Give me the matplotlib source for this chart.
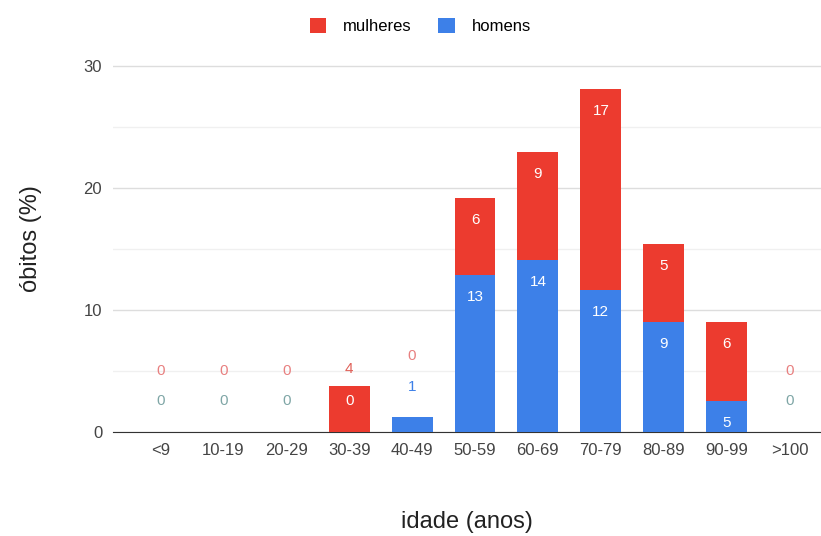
import numpy as np
import matplotlib.pyplot as plt

plt.rcParams['font.family'] = ['Liberation Sans', 'DejaVu Sans']

faixas = ["<9", "10-19", "20-29", "30-39", "40-49", "50-59", "60-69",
          "70-79", "80-89", "90-99", ">100"]
# percentages (bar heights)
homens_pct = [0, 0, 0, 0, 1.2, 12.9, 14.1, 11.6, 9.0, 2.5, 0]
mulheres_pct = [0, 0, 0, 3.8, 0, 6.3, 8.85, 16.5, 6.4, 6.5, 0]
# counts (annotations)
homens_n = [0, 0, 0, 0, 1, 13, 14, 12, 9, 5, 0]
mulheres_n = [0, 0, 0, 4, 0, 6, 9, 17, 5, 6, 0]

red = '#ec3b2f'
blue = '#3d80e8'

fig = plt.figure(figsize=(8.21, 5.36), dpi=100)
ax = fig.add_axes([0.138, 0.194, 0.862, 0.722])

x = np.arange(len(faixas))
w = 0.65
hp = np.array(homens_pct)
mp = np.array(mulheres_pct)
ax.bar(x, hp, w, color=blue, zorder=3, label="homens")
ax.bar(x, mp, w, bottom=hp, color=red, zorder=3, label="mulheres")

fs = 11
for i in x:
    top = hp[i] + mp[i]
    # homens label
    if hp[i] > 2:
        ax.text(i, hp[i] - 1.8, str(homens_n[i]), ha='center', va='center',
                color='white', fontsize=fs, zorder=4)
    elif hp[i] > 0:
        ax.text(i, hp[i] + 2.5, str(homens_n[i]), ha='center', va='center',
                color=blue, fontsize=fs, zorder=4)
    elif mp[i] > 0:
        ax.text(i, 2.5, str(homens_n[i]), ha='center', va='center',
                color='white', fontsize=fs, zorder=4)
    else:
        ax.text(i, 2.5, str(homens_n[i]), ha='center', va='center',
                color='#7fa6a6', fontsize=fs, zorder=4)
    # mulheres label
    if mp[i] > 2:
        if i == 3:
            ax.text(i, top + 1.4, str(mulheres_n[i]), ha='center', va='center',
                    color='#e06058', fontsize=fs, zorder=4)
        else:
            ax.text(i, top - 1.8, str(mulheres_n[i]), ha='center', va='center',
                    color='white', fontsize=fs, zorder=4)
    elif top > 0:
        ax.text(i, top + 5.0, str(mulheres_n[i]), ha='center', va='center',
                color='#e88080', fontsize=fs, zorder=4)
    else:
        ax.text(i, 5.0, str(mulheres_n[i]), ha='center', va='center',
                color='#e88080', fontsize=fs, zorder=4)

ax.set_xlim(-0.75, 10.5)
ax.set_ylim(0, 31.7)
ax.set_yticks([0, 10, 20, 30])
ax.set_yticks([5, 15, 25], minor=True)
ax.grid(axis='y', which='major', color='#dddddd', lw=1, zorder=0)
ax.grid(axis='y', which='minor', color='#f0f0f0', lw=1, zorder=0)
ax.set_xticks(x)
ax.set_xticklabels(faixas)
ax.tick_params(axis='both', which='both', length=0, labelsize=12, colors='#444444')
ax.tick_params(axis='y', pad=8)
ax.tick_params(axis='x', pad=8)
for s in ['top', 'right', 'left']:
    ax.spines[s].set_visible(False)
ax.spines['bottom'].set_color('#333333')

ax.set_ylabel("óbitos (%)", fontsize=17, color='#222222', labelpad=30)
ax.set_xlabel("idade (anos)", fontsize=17, color='#222222', labelpad=38)

handles, labels = ax.get_legend_handles_labels()
fig.legend(handles[::-1], labels[::-1], loc='upper center', bbox_to_anchor=(0.512, 0.995),
           ncol=2, frameon=False, fontsize=12, handlelength=1.0, handleheight=1.0,
           handletextpad=1.0, columnspacing=1.6)

fig.savefig("out.png", dpi=100)
